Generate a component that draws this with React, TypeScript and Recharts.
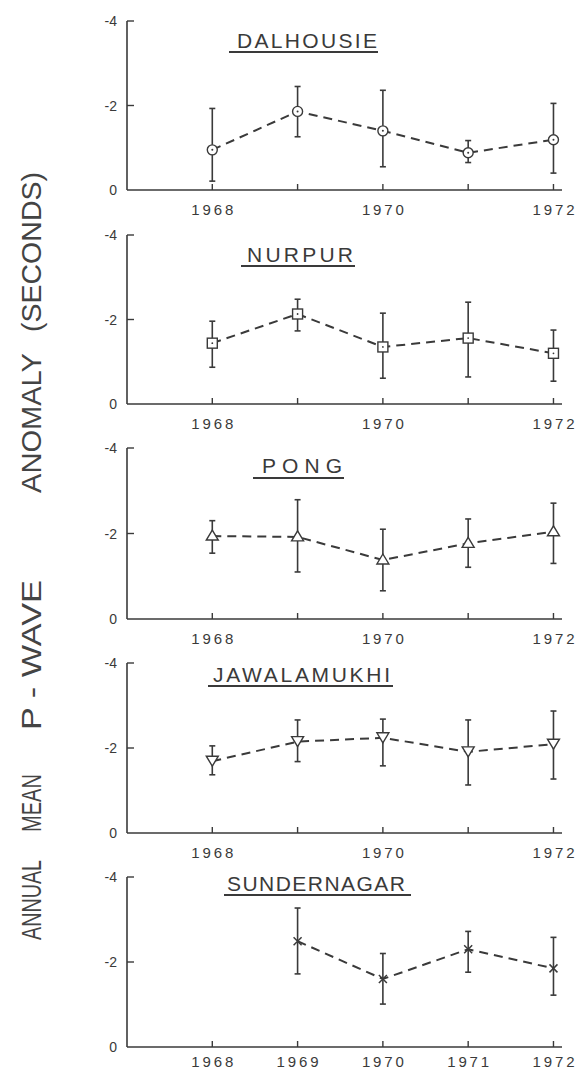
import React from 'react'
import { LineChart, Line, XAxis, YAxis, ErrorBar } from 'recharts'

// years on the x axis
const years = [1968, 1969, 1970, 1971, 1972]
const yTicks = [-4, -2, 0]

// annual mean anomaly (s) and the ends of the error bars
const dalhousieMean = [-0.95, -1.86, -1.4, -0.88, -1.19]
const dalhousieTop = [-1.93, -2.45, -2.36, -1.17, -2.05]
const dalhousieBottom = [-0.21, -1.26, -0.55, -0.65, -0.4]

const nurpurMean = [-1.44, -2.13, -1.35, -1.56, -1.2]
const nurpurTop = [-1.96, -2.48, -2.15, -2.41, -1.75]
const nurpurBottom = [-0.87, -1.73, -0.61, -0.64, -0.54]

const pongMean = [-1.94, -1.92, -1.38, -1.77, -2.04]
const pongTop = [-2.3, -2.79, -2.1, -2.34, -2.71]
const pongBottom = [-1.54, -1.1, -0.66, -1.21, -1.3]

const jawalamukhiMean = [-1.69, -2.15, -2.24, -1.91, -2.09]
const jawalamukhiTop = [-2.05, -2.66, -2.68, -2.66, -2.87]
const jawalamukhiBottom = [-1.37, -1.68, -1.58, -1.13, -1.27]

const sundernagarMean = [null, -2.49, -1.6, -2.3, -1.85]
const sundernagarTop = [null, -3.27, -2.2, -2.72, -2.58]
const sundernagarBottom = [null, -1.72, -1.01, -1.76, -1.22]

// tick labels under each panel
const evenYearLabels = ['1968', '', '1970', '', '1972']
const allYearLabels = ['1968', '1969', '1970', '1971', '1972']

const INK = '#3a3a3a'
const FONT = '"Liberation Sans", "DejaVu Sans", sans-serif'

function buildRows(mean: (number | null)[], top: (number | null)[], bottom: (number | null)[]) {
  return years
    .map((year, i) => {
      const m = mean[i]
      if (m === null) return null
      // ErrorBar wants [distance down to lower value, distance up to upper value]
      return { year, mean: m, err: [m - (top[i] as number), (bottom[i] as number) - m] }
    })
    .filter(Boolean) as { year: number; mean: number; err: number[] }[]
}

type Shape = 'circle' | 'square' | 'up' | 'down' | 'cross'

function marker(shape: Shape) {
  return (props: any) => {
    const { cx, cy, index } = props
    if (cx == null || cy == null) return <g key={`m-${index}`} />
    const common = { stroke: INK, strokeWidth: 1.4, fill: '#fff' }
    if (shape === 'circle')
      return (
        <g key={`m-${index}`}>
          <circle cx={cx} cy={cy} r={5} {...common} />
          <circle cx={cx} cy={cy} r={1} fill={INK} />
        </g>
      )
    if (shape === 'square')
      return (
        <g key={`m-${index}`}>
          <rect x={cx - 5} y={cy - 5} width={10} height={10} {...common} />
          <circle cx={cx} cy={cy} r={0.9} fill={INK} />
        </g>
      )
    if (shape === 'up')
      return <path key={`m-${index}`} d={`M${cx},${cy - 6} L${cx + 6},${cy + 4} L${cx - 6},${cy + 4} Z`} {...common} />
    if (shape === 'down')
      return <path key={`m-${index}`} d={`M${cx - 6},${cy - 5} L${cx + 6},${cy - 5} L${cx},${cy + 5} Z`} {...common} />
    return (
      <path
        key={`m-${index}`}
        d={`M${cx - 4},${cy - 4} L${cx + 4},${cy + 4} M${cx + 4},${cy - 4} L${cx - 4},${cy + 4}`}
        stroke={INK}
        strokeWidth={1.5}
        fill="none"
      />
    )
  }
}

function xTick(labels: string[], dy: number) {
  return (props: any) => {
    const { x, y, payload, index } = props
    const i = years.indexOf(payload.value)
    const label = labels[i] || ''
    return (
      <g key={`xt-${index}`}>
        <line x1={x} x2={x} y1={y} y2={y - 6} stroke={INK} strokeWidth={1.4} />
        {label && (
          <text x={x} y={y + dy} textAnchor="middle" fontSize={15} fill={INK} fontFamily={FONT} textLength={42} lengthAdjust="spacing">
            {label}
          </text>
        )}
      </g>
    )
  }
}

function yTick(props: any) {
  const { x, y, payload, index } = props
  const v = payload.value
  return (
    <g key={`yt-${index}`}>
      {v !== 0 && <line x1={x} x2={x + 7} y1={y} y2={y} stroke={INK} strokeWidth={1.4} />}
      <text x={x - 10} y={y + 5} textAnchor="end" fontSize={14} fill={INK} fontFamily={FONT}>
        {v === 0 ? '0' : `-${Math.abs(v)}`}
      </text>
    </g>
  )
}

const panels = [
  { name: 'DALHOUSIE', top: 21, plotH: 169, rows: buildRows(dalhousieMean, dalhousieTop, dalhousieBottom), shape: 'circle' as Shape, labels: evenYearLabels, dy: 25 },
  { name: 'NURPUR', top: 235, plotH: 169, rows: buildRows(nurpurMean, nurpurTop, nurpurBottom), shape: 'square' as Shape, labels: evenYearLabels, dy: 25 },
  { name: 'PONG', top: 448, plotH: 171, rows: buildRows(pongMean, pongTop, pongBottom), shape: 'up' as Shape, labels: evenYearLabels, dy: 25 },
  { name: 'JAWALAMUKHI', top: 663, plotH: 170, rows: buildRows(jawalamukhiMean, jawalamukhiTop, jawalamukhiBottom), shape: 'down' as Shape, labels: evenYearLabels, dy: 25 },
  { name: 'SUNDERNAGAR', top: 877, plotH: 170, rows: buildRows(sundernagarMean, sundernagarTop, sundernagarBottom), shape: 'cross' as Shape, labels: allYearLabels, dy: 20 }
]

// title placement: left, right, baseline, underline
const titleBoxes = [
  { x1: 237, x2: 377, base: 48, ul1: 229, ul2: 378, ul: 52 },
  { x1: 247, x2: 353, base: 262, ul1: 241, ul2: 355, ul: 266 },
  { x1: 262, x2: 342, base: 473, ul1: 253, ul2: 344, ul: 478 },
  { x1: 213, x2: 390, base: 682, ul1: 208, ul2: 393, ul: 686 },
  { x1: 227, x2: 405, base: 891, ul1: 224, ul2: 411, ul: 895 }
]

// vertical axis title, one piece per word group: centre y and length
const axisWords = [
  { text: 'ANNUAL', c: 900, len: 80 },
  { text: 'MEAN', c: 803, len: 58 },
  { text: 'P - WAVE', c: 655, len: 150 },
  { text: 'ANOMALY', c: 423, len: 140 },
  { text: '(SECONDS)', c: 252, len: 160 }
]

export default function App() {
  return (
    <div style={{ position: 'absolute', left: 0, top: 0, width: 587, height: 1072, background: '#fff', overflow: 'hidden' }}>
      {panels.map((p) => (
        <div key={p.name} style={{ position: 'absolute', left: 0, top: p.top - 10 }}>
          <LineChart width={587} height={p.plotH + 50} data={p.rows} margin={{ top: 10, right: 25, left: 87, bottom: 10 }}>
            <XAxis
              type="number"
              dataKey="year"
              domain={[1967, 1972.1]}
              ticks={years}
              height={30}
              allowDataOverflow
              axisLine={{ stroke: INK, strokeWidth: 1.6 }}
              tickLine={false}
              tickSize={0}
              tickMargin={0}
              tick={xTick(p.labels, p.dy)}
            />
            <YAxis
              type="number"
              domain={[-4, 0]}
              reversed
              ticks={yTicks}
              width={40}
              allowDataOverflow
              axisLine={{ stroke: INK, strokeWidth: 1.6 }}
              tickLine={false}
              tickSize={0}
              tickMargin={0}
              tick={yTick}
            />
            <Line
              dataKey="mean"
              stroke={INK}
              strokeWidth={2}
              strokeDasharray="9 6"
              isAnimationActive={false}
              dot={marker(p.shape)}
              activeDot={false}
            >
              <ErrorBar dataKey="err" direction="y" width={3} stroke={INK} strokeWidth={1.6} />
            </Line>
          </LineChart>
        </div>
      ))}
      <svg width={587} height={1072} style={{ position: 'absolute', left: 0, top: 0, pointerEvents: 'none' }}>
        {panels.map((p, i) => {
          const b = titleBoxes[i]
          return (
            <g key={p.name}>
              <text x={b.x1} y={b.base} fontSize={21} fill={INK} fontFamily={FONT} textLength={b.x2 - b.x1} lengthAdjust="spacing">
                {p.name}
              </text>
              <line x1={b.ul1} x2={b.ul2} y1={b.ul} y2={b.ul} stroke={INK} strokeWidth={2} />
            </g>
          )
        })}
        {axisWords.map((w) => (
          <text
            key={w.text}
            x={41}
            y={w.c}
            transform={`rotate(-90 41 ${w.c})`}
            textAnchor="middle"
            fontSize={27}
            fill="#444"
            fontFamily={FONT}
            textLength={w.len}
            lengthAdjust="spacingAndGlyphs"
          >
            {w.text}
          </text>
        ))}
      </svg>
    </div>
  )
}
